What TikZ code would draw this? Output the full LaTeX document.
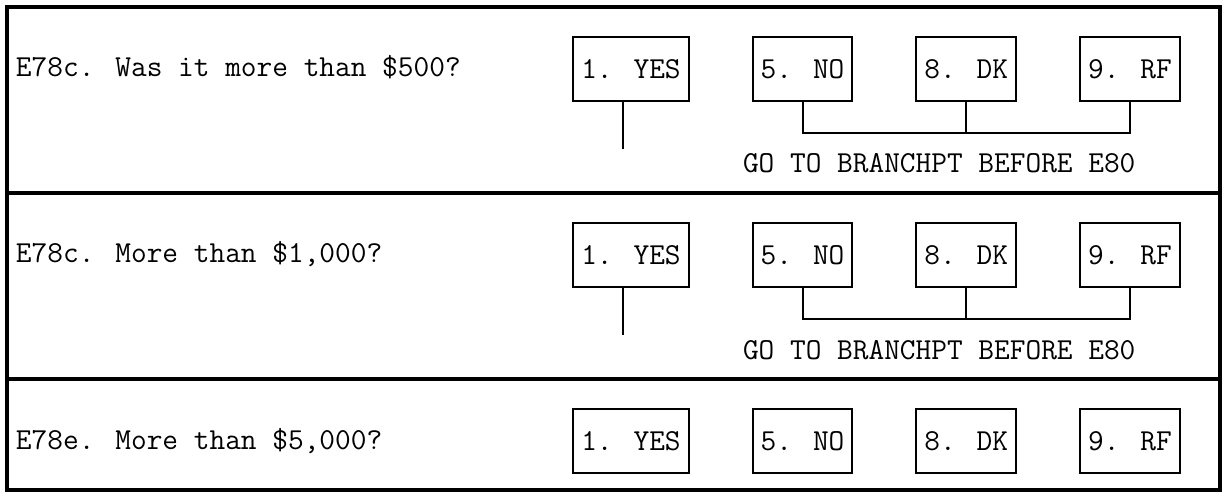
\documentclass[tikz,border=0pt]{standalone}
\usepackage{fontspec}
\usetikzlibrary{positioning}

\begin{document}
\begin{tikzpicture}[x=1pt,y=1pt,line width=2pt,
  box/.style={draw,rectangle,inner xsep=8pt,minimum height=64pt,outer sep=0pt},
  label text/.style={anchor=base west,inner sep=0pt},
  font=\ttfamily\fontsize{30.48}{36}\selectfont]

\useasboundingbox (0,0) rectangle (1224,496);

% frame and row rules
\draw[line width=3.5pt] (7,6) rectangle (1220,489);
\draw[line width=3.5pt] (7,303) -- (1220,303);
\draw[line width=3.5pt] (7,117) -- (1220,117);

% row 1
\node[label text] (q1) at (15,419) {E78c. Was it more than \$500?};
\node[box] (yes1) at (631,427) {1. YES};
\node[box] (no1) [right=64pt of yes1] {5. NO};
\node[box] (dk1) [right=64pt of no1] {8. DK};
\node[box] (rf1) [right=64pt of dk1] {9. RF};
\coordinate (bus1) at ([yshift=-32pt]dk1.south);
\coordinate (stop1) at ([xshift=-8pt,yshift=-48pt]yes1.south);
\draw (yes1.south -| stop1) -- (stop1);
\draw (no1.south) |- (bus1) -| (rf1.south);
\draw (dk1.south) -- (bus1);
\node[label text] (go1) at (742,323) {GO TO BRANCHPT BEFORE E80};

% row 2
\node[label text] (q2) at (15,233) {E78c. More than \$1,000?};
\node[box] (yes2) at (631,241) {1. YES};
\node[box] (no2) [right=64pt of yes2] {5. NO};
\node[box] (dk2) [right=64pt of no2] {8. DK};
\node[box] (rf2) [right=64pt of dk2] {9. RF};
\coordinate (bus2) at ([yshift=-32pt]dk2.south);
\coordinate (stop2) at ([xshift=-8pt,yshift=-48pt]yes2.south);
\draw (yes2.south -| stop2) -- (stop2);
\draw (no2.south) |- (bus2) -| (rf2.south);
\draw (dk2.south) -- (bus2);
\node[label text] (go2) at (742,137) {GO TO BRANCHPT BEFORE E80};

% row 3
\node[label text] (q3) at (15,47) {E78e. More than \$5,000?};
\node[box] (yes3) at (631,55) {1. YES};
\node[box] (no3) [right=64pt of yes3] {5. NO};
\node[box] (dk3) [right=64pt of no3] {8. DK};
\node[box] (rf3) [right=64pt of dk3] {9. RF};

\end{tikzpicture}
\end{document}
